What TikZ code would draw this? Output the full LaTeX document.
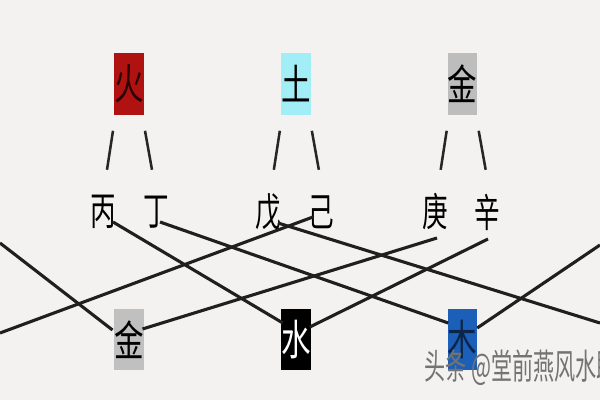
\documentclass[tikz,border=0pt]{standalone}
\usepackage{fontspec}
\usepackage{tikz}
\usetikzlibrary{arrows}
\newfontfamily\cjkstem[FakeStretch=0.65]{Noto Sans CJK SC}
\newfontfamily\cjkbox[FakeStretch=0.70]{Noto Sans CJK SC}
\newfontfamily\cjkmark[FakeStretch=0.60]{Noto Sans CJK SC}
\definecolor{paper}{HTML}{F3F2F0}
\definecolor{firered}{HTML}{B01212}
\definecolor{earthcyan}{HTML}{A2EEF6}
\definecolor{metalgray}{HTML}{BDBDBD}
\definecolor{woodblue}{HTML}{1C5FB8}

\begin{document}
\begin{tikzpicture}[x=0.025cm,y=-0.025cm,node distance=4.17cm,
  elem/.style={minimum width=0.7cm,minimum height=1.525cm,inner sep=0pt,
    font=\cjkbox\fontsize{30}{30}\selectfont},
  stem/.style={inner sep=0pt,minimum width=0.55cm,minimum height=0.875cm,
    font=\cjkstem\fontsize{28}{28}\selectfont},
  link/.style={line width=2.2pt,black!88},
  tick/.style={line width=1.8pt,black!85}]
  \useasboundingbox (0,0) rectangle (600,400);
  \clip (0,0) rectangle (600,400);
  \fill[paper] (0,0) rectangle (600,400);

  % wu xing boxes, top row
  \node[elem,fill=firered,text=black!75!firered] (fire)  at (129,84) {火};
  \node[elem,fill=earthcyan]  (earth) [right of=fire]  {土};
  \node[elem,fill=metalgray]  (metal) [right of=earth] {金};

  % heavenly stems
  \node[stem] (bing) at (103,212) {丙};
  \node[stem] (ding) at (156,212) {丁};
  \node[stem] (wu)   at (268,212) {戊};
  \node[stem] (ji)   at (321,212) {己};
  \node[stem] (geng) at (435,212) {庚};
  \node[stem] (xin)  at (487,212) {辛};
  \node[stem] (ren)  at (612,212) {壬};

  % wu xing boxes, bottom row
  \node[elem,fill=metalgray!95!white] (metalb) at (129,339.5) {金};
  \node[elem,fill=black,text=white]   (water) [right of=metalb] {水};
  \node[elem,fill=woodblue,text=black!60!woodblue] (wood) [right of=water] {木};

  % ticks under the top boxes
  \foreach \e in {fire,earth,metal}{
    \draw[tick] ([shift={(-16,16)}]\e.south) -- ([shift={(-22,55)}]\e.south);
    \draw[tick] ([shift={(16,16)}]\e.south) -- ([shift={(23,55)}]\e.south);
  }

  \coordinate (lefta)  at (0,243);
  \coordinate (leftb)  at (0,333);
  \coordinate (righta) at (600,245);
  \coordinate (rightb) at (600,323);

  \path[link]
    (lefta) edge ([shift={(-16.5,-9.5)}]metalb.center)
    (leftb) edge ([shift={(-8,5)}]ji.center)
    ([shift={(10,10)}]bing.center) edge ([shift={(-13,-16.5)}]water.center)
    ([shift={(4,10)}]ding.center)  edge ([shift={(-14.5,-16.5)}]wood.center)
    ([shift={(10,11)}]wu.center)   edge (rightb)
    ([shift={(2,26)}]geng.center)  edge ([shift={(13.5,-10.5)}]metalb.center)
    ([shift={(1,27)}]xin.center)   edge ([shift={(14,-12.5)}]water.center)
    (righta) edge ([shift={(14.5,-11.5)}]wood.center)
  ;

  \node[anchor=west,inner sep=0pt,text=black!55,
    font=\cjkmark\fontsize{25}{25}\selectfont] (mark) at (424,368) {头条 @堂前燕风水助};
\end{tikzpicture}
\end{document}
